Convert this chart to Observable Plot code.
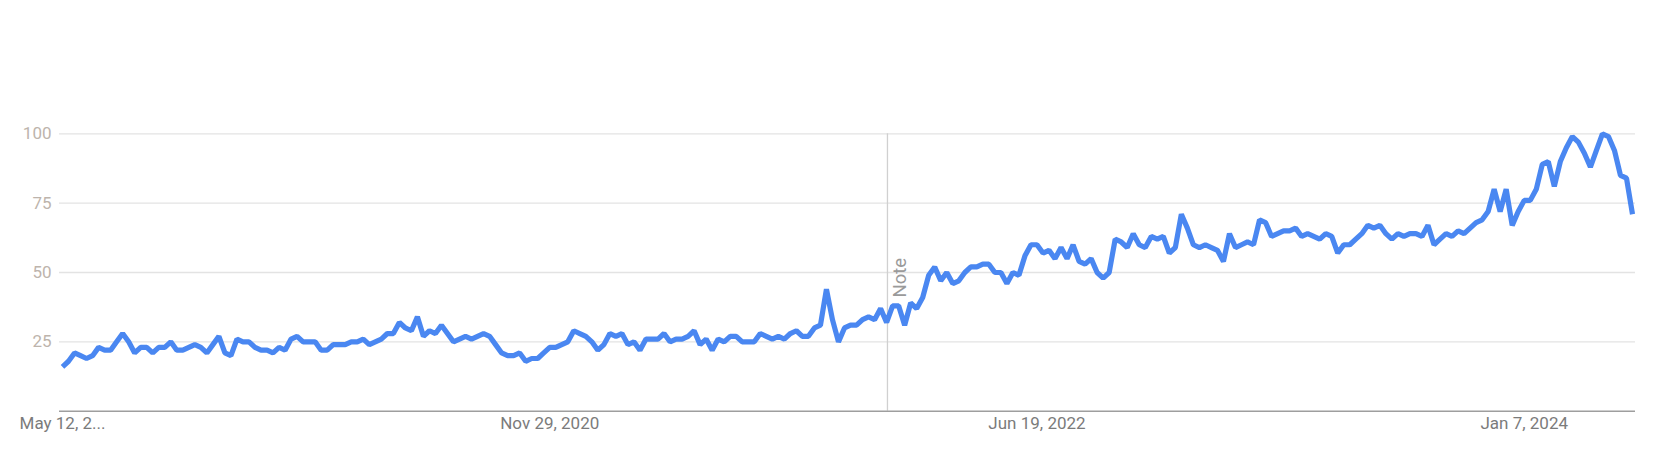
<!DOCTYPE html>
<html>
<head>
<meta charset="utf-8">
<script src="https://cdn.jsdelivr.net/npm/d3@7"></script>
<script src="https://cdn.jsdelivr.net/npm/@observablehq/plot@0.6"></script>
<style>
  html, body { margin: 0; padding: 0; background: #ffffff; }
  #chart svg { display: block; }
</style>
</head>
<body>
<div id="chart"></div>
<script>
// Weekly interest over time (Google Trends style), first week starting May 12, 2019
const startDate = "2019-05-12";
const values = [
  16,18,21,20,19,20,23,22,22,25,
  28,25,21,23,23,21,23,23,25,22,
  22,23,24,23,21,24,27,21,20,26,
  25,25,23,22,22,21,23,22,26,27,
  25,25,25,22,22,24,24,24,25,25,
  26,24,25,26,28,28,32,30,29,34,
  27,29,28,31,28,25,26,27,26,27,
  28,27,24,21,20,20,21,18,19,19,
  21,23,23,24,25,29,28,27,25,22,
  24,28,27,28,24,25,22,26,26,26,
  28,25,26,26,27,29,24,26,22,26,
  25,27,27,25,25,25,28,27,26,27,
  26,28,29,27,27,30,31,44,33,25,
  30,31,31,33,34,33,37,32,38,38,
  31,39,37,41,49,52,47,50,46,47,
  50,52,52,53,53,50,50,46,50,49,
  56,60,60,57,58,55,59,55,60,54,
  53,55,50,48,50,62,61,59,64,60,
  59,63,62,63,57,59,71,66,60,59,
  60,59,58,54,64,59,60,61,60,69,
  68,63,64,65,65,66,63,64,63,62,
  64,63,57,60,60,62,64,67,66,67,
  64,62,64,63,64,64,63,67,60,62,
  64,63,65,64,66,68,69,72,80,72,
  80,67,72,76,76,80,89,90,81,90,
  95,99,97,93,88,94,100,99,94,85,
  84,71
];
const yTicks = [25, 50, 75, 100];
const tickDates = ["2019-05-12", "2020-11-29", "2022-06-19", "2024-01-07"];
const tickLabels = ["May 12, 2...", "Nov 29, 2020", "Jun 19, 2022", "Jan 7, 2024"];
const noteDate = "2021-12-27";
const noteLabel = "Note";
const noteY = 41;

const parse = s => new Date(s + "T00:00:00Z");
const start = parse(startDate);
const data = values.map((v, i) => ({ date: d3.utcDay.offset(start, 7 * i), value: v }));
const tickD = tickDates.map(parse);
const labelOf = new Map(tickD.map((d, i) => [+d, tickLabels[i]]));
const noteD = parse(noteDate);

const chart = Plot.plot({
  width: 1663,
  height: 472,
  marginLeft: 59,
  marginRight: 28,
  marginTop: 133.3,
  marginBottom: 61.3,
  style: { fontFamily: "Roboto, 'Noto Sans', sans-serif", fontSize: "17px", background: "#ffffff", overflow: "visible" },
  x: { type: "utc", domain: [data[0].date, data[data.length - 1].date], insetLeft: 3, insetRight: 3 },
  y: { domain: [0, 100] },
  marks: [
    Plot.ruleY(yTicks, { stroke: "#e3e3e3", strokeWidth: 1.3 }),
    Plot.ruleX([noteD], { y1: 0, y2: 100, stroke: "#d0d0d0", strokeWidth: 1.3 }),
    Plot.ruleY([0], { stroke: "#9e9e9e", strokeWidth: 1.4 }),
    Plot.axisY(yTicks, { tickSize: 0, tickPadding: 8, color: "#bdb4ac", label: null, fontSize: 17 }),
    Plot.axisX(tickD, { tickSize: 0, tickPadding: 6, tickFormat: d => labelOf.get(+d), color: "#7b7b7b", label: null, fontSize: 17 }),
    Plot.line(data, { x: "date", y: "value", stroke: "#4a87f1", strokeWidth: 5.2, strokeLinejoin: "miter", strokeLinecap: "butt" }),
    Plot.text([noteLabel], {
      x: () => noteD, y: () => noteY, text: d => d,
      rotate: -90, textAnchor: "start", lineAnchor: "top", dx: 5,
      fill: "#9a9a9a", fontSize: 18.5
    })
  ]
});
document.getElementById("chart").appendChild(chart);
</script>
</body>
</html>
